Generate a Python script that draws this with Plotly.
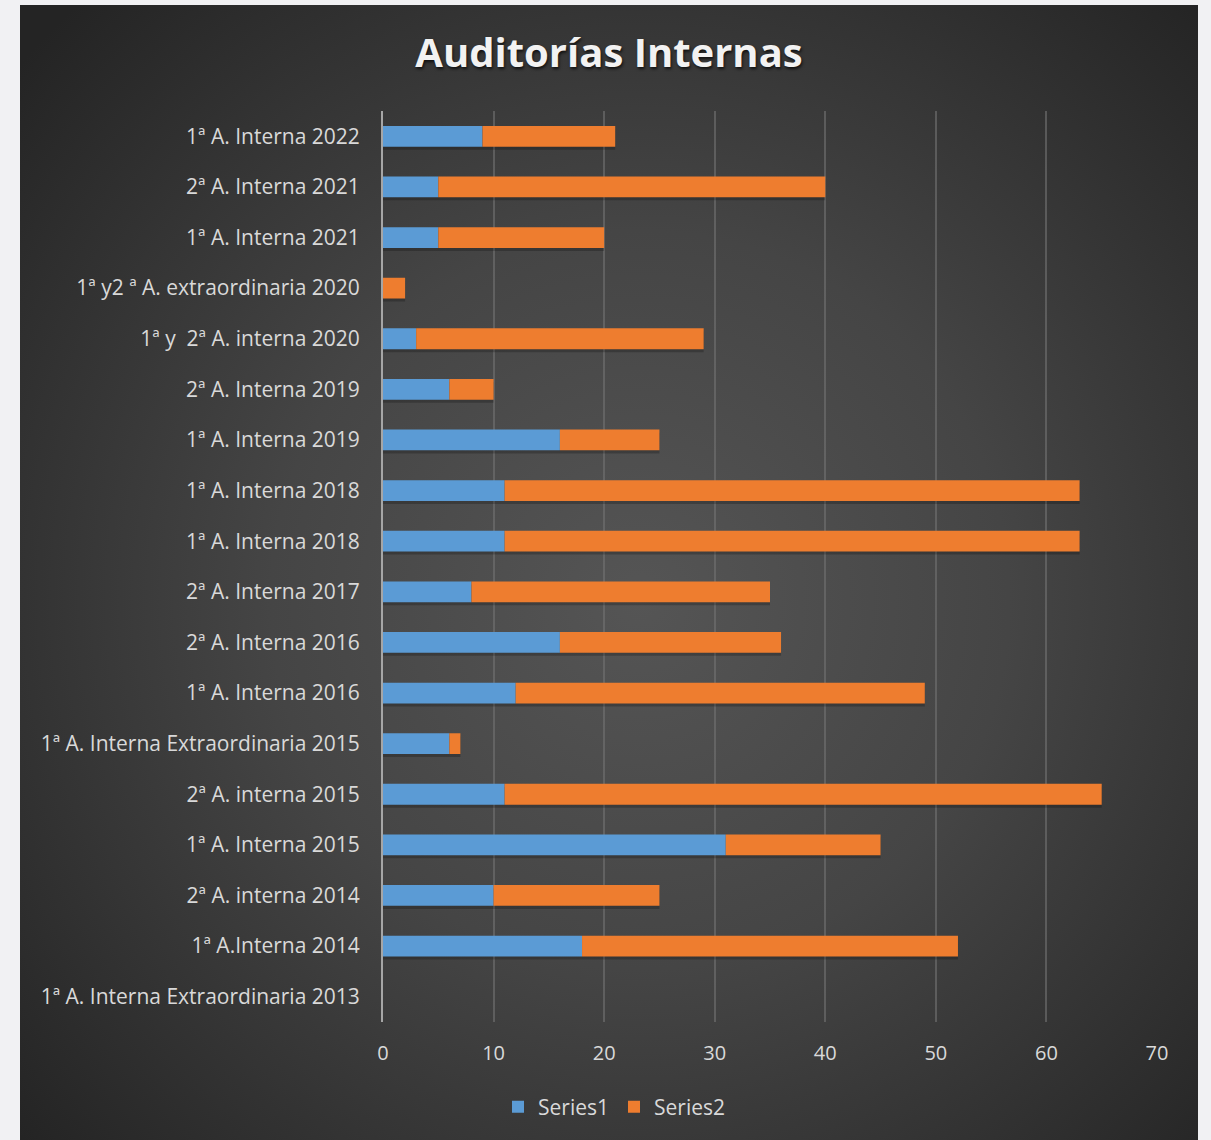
import plotly.graph_objects as go
import urllib.parse

# Internal audits: counts per audit, two series stacked
labels = [
    "1ª A. Interna 2022",
    "2ª A. Interna 2021",
    "1ª A. Interna 2021",
    "1ª y2 ª A. extraordinaria 2020",
    "1ª y  2ª A. interna 2020",
    "2ª A. Interna 2019",
    "1ª A. Interna 2019",
    "1ª A. Interna 2018",
    "1ª A. Interna 2018",
    "2ª A. Interna 2017",
    "2ª A. Interna 2016",
    "1ª A. Interna 2016",
    "1ª A. Interna Extraordinaria 2015",
    "2ª A. interna 2015",
    "1ª A. Interna 2015",
    "2ª A. interna 2014",
    "1ª A.Interna 2014",
    "1ª A. Interna Extraordinaria 2013",
]
series1 = [9, 5, 5, 0, 3, 6, 16, 11, 11, 8, 16, 12, 6, 11, 31, 10, 18, 0]
series2 = [12, 35, 15, 2, 26, 4, 9, 52, 52, 27, 20, 37, 1, 54, 14, 15, 34, 0]
x_ticks = [0, 10, 20, 30, 40, 50, 60, 70]

W, H = 1211, 1140
L, R, T, B = 383, 54, 111, 118
PW, PH = W - L - R, H - T - B

positions = list(range(len(labels)))

BLUE = "#5b9bd5"
ORANGE = "#ee7d2f"
TEXT = "#d9d9d9"
LABEL_FONT = "Open Sans"

# Dark card with a soft radial glow, on a light page
svg = (
    f"<svg xmlns='http://www.w3.org/2000/svg' width='{W}' height='{H}' viewBox='0 0 {W} {H}'>"
    "<defs><radialGradient id='g' cx='640' cy='600' r='820' gradientUnits='userSpaceOnUse'>"
    "<stop offset='0' stop-color='#555555'/>"
    "<stop offset='0.45' stop-color='#454545'/>"
    "<stop offset='1' stop-color='#242424'/>"
    "</radialGradient></defs>"
    f"<rect x='0' y='0' width='{W}' height='{H}' fill='#f1f1f3'/>"
    f"<rect x='20' y='5' width='1178' height='{H}' fill='url(#g)'/>"
    "</svg>"
)
bg_src = "data:image/svg+xml;charset=utf-8," + urllib.parse.quote(svg)

fig = go.Figure()

bar_w = 0.41
total = [a + b for a, b in zip(series1, series2)]

# soft drop shadow under each stacked bar
fig.add_trace(go.Bar(
    y=positions, x=total, orientation="h", width=bar_w, offset=-bar_w / 2 + 0.06,
    marker=dict(color="rgba(0,0,0,0.22)", line=dict(width=0)),
    showlegend=False, hoverinfo="skip",
))
fig.add_trace(go.Bar(
    y=positions, x=series1, orientation="h", name="Series1", width=bar_w,
    marker=dict(color=BLUE, line=dict(width=0)),
))
fig.add_trace(go.Bar(
    y=positions, x=series2, base=series1, orientation="h", name="Series2", width=bar_w,
    marker=dict(color=ORANGE, line=dict(width=0)),
))

fig.update_layout(
    width=W, height=H,
    margin=dict(l=L, r=R, t=T, b=B),
    paper_bgcolor="#f1f1f3",
    plot_bgcolor="rgba(0,0,0,0)",
    barmode="overlay",
    images=[dict(
        source=bg_src, xref="paper", yref="paper",
        x=-L / PW, y=1 + T / PH, sizex=W / PW, sizey=H / PH,
        xanchor="left", yanchor="top", sizing="stretch", layer="below",
    )],
    title=dict(
        text="<b>Auditorías Internas</b>",
        x=609 / W, xanchor="center", y=1 - 53 / H, yanchor="middle",
        xref="container",
        font=dict(family="Open Sans", size=40, color="#f2f2f2",
                  shadow="1px 2px 3px rgba(0,0,0,0.7)"),
    ),
    font=dict(family=LABEL_FONT, size=21, color=TEXT),
    showlegend=True,
    legend=dict(
        orientation="h", x=(614 - L) / PW, xanchor="center", y=-85 / PH, yanchor="middle",
        font=dict(family=LABEL_FONT, size=21, color=TEXT), bgcolor="rgba(0,0,0,0)",
        itemwidth=30, traceorder="normal",
    ),
    xaxis=dict(
        range=[0, 70], tickvals=x_ticks, showgrid=True,
        gridcolor="rgba(115,115,115,0.6)", gridwidth=2,
        zeroline=False, showline=False, ticks="",
        ticklabelstandoff=17,
        tickfont=dict(family=LABEL_FONT, size=20, color=TEXT),
    ),
    yaxis=dict(
        range=[len(labels) - 0.5, -0.5], tickvals=positions, ticktext=labels,
        showgrid=False, zeroline=False, ticks="",
        showline=True, linecolor="#a6a6a6", linewidth=2,
        ticklabelstandoff=17,
        tickfont=dict(family=LABEL_FONT, size=21, color=TEXT),
    ),
    bargap=0.59,
)

fig.write_html("out.html")
